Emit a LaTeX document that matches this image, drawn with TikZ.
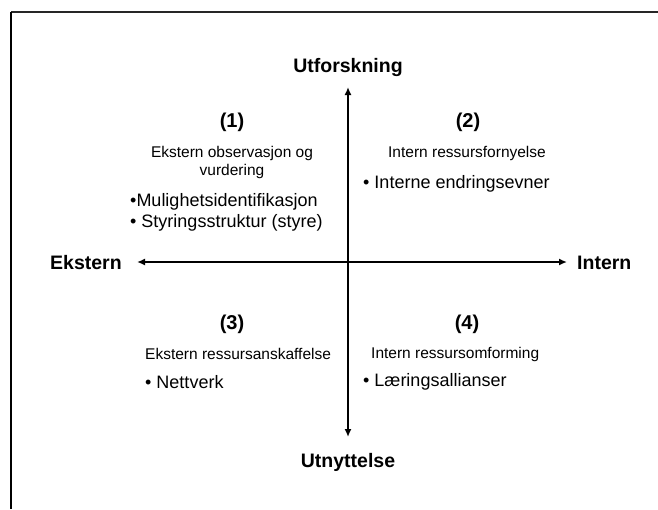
\documentclass[tikz,border=0pt]{standalone}
\usepackage{fontspec}
\setmainfont{Liberation Sans}
\usetikzlibrary{arrows.meta}
\begin{document}
\begin{tikzpicture}[x=1pt,y=-1pt,
  axislabel/.style={font=\fontsize{19.5}{22}\selectfont\bfseries, inner sep=0pt},
  quadnum/.style={font=\fontsize{20}{23}\selectfont\bfseries, inner sep=0pt},
  quadtitle/.style={font=\fontsize{15.5}{18}\selectfont, inner sep=0pt, align=center},
  quaditem/.style={font=\fontsize{18}{21.5}\selectfont, inner sep=0pt, anchor=west},
  axis/.style={line width=2pt, {Latex[length=8pt,width=7pt]}-{Latex[length=8pt,width=7pt]}},
  frametop/.style={line width=1.3pt, black!85},
  frameleft/.style={line width=2pt, black}]
\useasboundingbox (0,0) rectangle (658,509);
% frame edges
\coordinate (fc) at (11,12);
\coordinate (fr) at (658,12);
\coordinate (fb) at (11,509);
\draw[frametop] (fc) -- (fr);
\draw[frameleft] (fc) -- (fb);
% axes
\coordinate (N) at (348,87);
\coordinate (S) at (348,437);
\coordinate (W) at (137,262);
\coordinate (E) at (567,262);
\draw[axis] (S) -- (N);
\draw[axis] (W) -- (E);
% axis labels
\node[axislabel] (utf) at (348,67) {Utforskning};
\node[axislabel] (utn) at (348,462) {Utnyttelse};
\node[axislabel, anchor=west] (eks) at (50,263) {Ekstern};
\node[axislabel, anchor=west] (int) at (577,263) {Intern};
% quadrant 1
\node[quadnum] (q1) at (232,122) {(1)};
\node[quadtitle] (q1t) at (232,162) {Ekstern observasjon og\\vurdering};
\node[quaditem] (q1a) at (130,202) {•Mulighetsidentifikasjon};
\node[quaditem] (q1b) at (130,223) {• Styringsstruktur (styre)};
% quadrant 2
\node[quadnum] (q2) at (468,122) {(2)};
\node[quadtitle] (q2t) at (467,153) {Intern ressursfornyelse};
\node[quaditem] (q2a) at (363,184) {• Interne endringsevner};
% quadrant 3
\node[quadnum] (q3) at (232,324) {(3)};
\node[quadtitle, anchor=west] (q3t) at (145,354) {Ekstern ressursanskaffelse};
\node[quaditem] (q3a) at (145,382) {• Nettverk};
% quadrant 4
\node[quadnum] (q4) at (467,324) {(4)};
\node[quadtitle, anchor=west] (q4t) at (371,354) {Intern ressursomforming};
\node[quaditem] (q4a) at (363,382) {• Læringsallianser};
\end{tikzpicture}
\end{document}
